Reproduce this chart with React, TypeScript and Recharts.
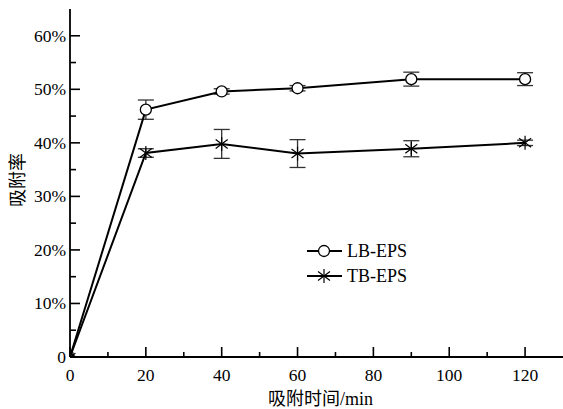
import { LineChart, Line, XAxis, YAxis, ErrorBar } from 'recharts';

// adsorption time (min)
const times = [0, 20, 40, 60, 90, 120];
// adsorption rate (%)
const lbEps = [0, 46.2, 49.6, 50.2, 51.9, 51.9];
const lbErr = [0, 1.8, 0.5, 0.5, 1.3, 1.2];
const tbEps = [0, 38.1, 39.8, 38.0, 38.9, 40.0];
const tbErr = [0, 0.8, 2.7, 2.6, 1.5, 0.5];

const xTicks = [0, 10, 20, 30, 40, 50, 60, 70, 80, 90, 100, 110, 120];
const yTicks = [0, 5, 10, 15, 20, 25, 30, 35, 40, 45, 50, 55, 60];

const data = times.map((t, i) => ({
  t,
  lb: lbEps[i],
  lbErr: lbErr[i],
  tb: tbEps[i],
  tbErr: tbErr[i],
}));

const FONT = '"Liberation Serif", "Times New Roman", "Noto Sans CJK SC", serif';

const XTick = ({ x, y, payload }: any) => {
  const major = payload.value % 20 === 0;
  return (
    <g>
      <line x1={x} y1={y} x2={x} y2={y - (major ? 10 : 5)} stroke="#000" strokeWidth={1.6} />
      {major && (
        <text x={x} y={y + 24} textAnchor="middle" fontSize={17.5} fontFamily={FONT} fill="#000">
          {payload.value}
        </text>
      )}
    </g>
  );
};

const YTick = ({ x, y, payload }: any) => {
  const major = payload.value % 10 === 0;
  return (
    <g>
      <line x1={x} y1={y} x2={x + (major ? 10 : 6)} y2={y} stroke="#000" strokeWidth={1.6} />
      {major && (
        <text x={x - 4} y={y} textAnchor="end" dominantBaseline="central" fontSize={17.5} fontFamily={FONT} fill="#000">
          {payload.value === 0 ? '0' : `${payload.value}%`}
        </text>
      )}
    </g>
  );
};

// rotated y-axis title, centred on the plot height
const YLabel = ({ viewBox }: any) => {
  const cx = 18;
  const cy = viewBox.y + viewBox.height / 2 - 3;
  return (
    <text
      x={cx}
      y={cy}
      transform={`rotate(-90 ${cx} ${cy})`}
      textAnchor="middle"
      dominantBaseline="central"
      fontSize={18}
      fontFamily={FONT}
      fill="#000"
    >
      吸附率
    </text>
  );
};

const CircleDot = ({ cx, cy, value }: any) => {
  if (!value) return <g />;
  return <circle cx={cx} cy={cy} r={5.5} fill="#fff" stroke="#000" strokeWidth={1.3} />;
};

const Star = ({ cx, cy, s = 1 }: { cx: number; cy: number; s?: number }) => (
  <g stroke="#000" strokeWidth={1.2}>
    <line x1={cx} y1={cy - 7 * s} x2={cx} y2={cy + 7 * s} />
    <line x1={cx - 6 * s} y1={cy - 4.5 * s} x2={cx + 6 * s} y2={cy + 4.5 * s} />
    <line x1={cx - 6 * s} y1={cy + 4.5 * s} x2={cx + 6 * s} y2={cy - 4.5 * s} />
  </g>
);

const StarDot = ({ cx, cy, value }: any) => {
  if (!value) return <Star cx={cx + 3} cy={cy - 2} s={0.4} />;
  return <Star cx={cx} cy={cy} />;
};

const LegendBox = () => (
  <svg width={150} height={55} style={{ position: 'absolute', left: 302, top: 237 }}>
    <line x1={5} y1={14} x2={40} y2={14} stroke="#000" strokeWidth={2} />
    <circle cx={22} cy={14} r={5.5} fill="#fff" stroke="#000" strokeWidth={1.3} />
    <text x={45} y={20} fontSize={18} fontFamily={FONT} fill="#000">LB-EPS</text>
    <line x1={5} y1={39} x2={40} y2={39} stroke="#000" strokeWidth={2} />
    <Star cx={22} cy={39} />
    <text x={45} y={45} fontSize={18} fontFamily={FONT} fill="#000">TB-EPS</text>
  </svg>
);

export default function App() {
  return (
    <div style={{ position: 'absolute', left: 0, top: 0, width: 563, height: 409, background: '#fff' }}>
      <LineChart width={563} height={409} data={data} margin={{ top: 9, right: 0, bottom: 0, left: 0 }}>
        <XAxis
          dataKey="t"
          type="number"
          domain={[0, 130]}
          ticks={xTicks}
          interval={0}
          tickSize={0}
          tickMargin={0}
          tick={<XTick />}
          height={52}
          axisLine={{ stroke: '#000', strokeWidth: 1.8 }}
          label={{ value: '吸附时间/min', position: 'insideBottom', offset: 4, fontSize: 18, fontFamily: FONT, fill: '#000', dx: 4 }}
        />
        <YAxis
          type="number"
          domain={[0, 65]}
          ticks={yTicks}
          interval={0}
          tickSize={0}
          tickMargin={0}
          tick={<YTick />}
          width={70}
          axisLine={{ stroke: '#000', strokeWidth: 1.8 }}
          label={{ content: <YLabel /> }}
        />
        <Line
          dataKey="tb"
          stroke="#000"
          strokeWidth={2}
          dot={<StarDot />}
          activeDot={false}
          isAnimationActive={false}
        >
          <ErrorBar dataKey="tbErr" width={8} stroke="#333" strokeWidth={1.3} direction="y" isAnimationActive={false} />
        </Line>
        <Line
          dataKey="lb"
          stroke="#000"
          strokeWidth={2}
          dot={<CircleDot />}
          activeDot={false}
          isAnimationActive={false}
        >
          <ErrorBar dataKey="lbErr" width={8} stroke="#333" strokeWidth={1.3} direction="y" isAnimationActive={false} />
        </Line>
      </LineChart>
      <LegendBox />
    </div>
  );
}
